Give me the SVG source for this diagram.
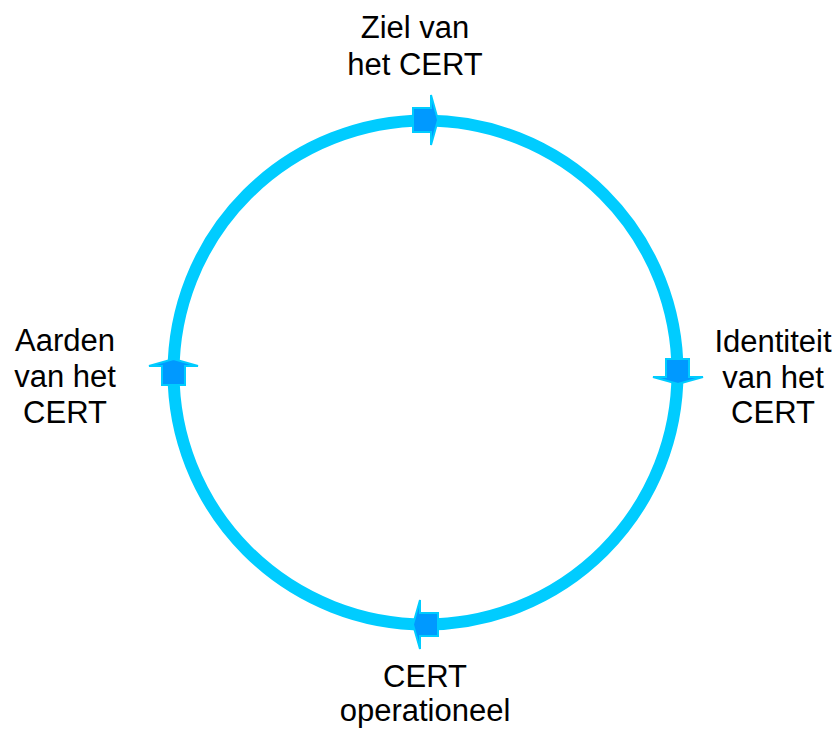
<svg xmlns="http://www.w3.org/2000/svg" width="838" height="729" viewBox="0 0 838 729">
<style>
.lbl{font-family:"Liberation Sans",Arial,sans-serif;font-size:31px;fill:#000;text-anchor:middle}
.ring{fill:none;stroke:#00CCFF;stroke-width:12}
.arr{fill:#0099FF;stroke:#00CCFF;stroke-width:2;stroke-linejoin:miter}
</style>
<rect width="838" height="729" fill="#fff"/>
<g id="connectors">
<circle class="ring" cx="425.5" cy="372.5" r="252"/>
<path class="arr" d="M413,108 H431 V95 L438,120 L431,145 V132 H413 Z"/>
<path class="arr" d="M666,359 H689 V377 H703 L678,384 L653,377 H666 Z"/>
<path class="arr" d="M438,613 V636 H420 V649 L413,624.5 L420,600 V613 Z"/>
<path class="arr" d="M162,385 V366 H149 L173.5,359 L198,366 H185 V385 Z"/>
</g>
<g id="node-ziel"><text class="lbl" x="415" y="38">Ziel van</text><text class="lbl" x="415" y="75">het CERT</text></g>
<g id="node-identiteit"><text class="lbl" x="773" y="352">Identiteit</text><text class="lbl" x="773" y="388">van het</text><text class="lbl" x="773" y="423">CERT</text></g>
<g id="node-operationeel"><text class="lbl" x="425" y="687">CERT</text><text class="lbl" x="425" y="721">operationeel</text></g>
<g id="node-aarden"><text class="lbl" x="65" y="351">Aarden</text><text class="lbl" x="65" y="387">van het</text><text class="lbl" x="65" y="423">CERT</text></g>
</svg>
